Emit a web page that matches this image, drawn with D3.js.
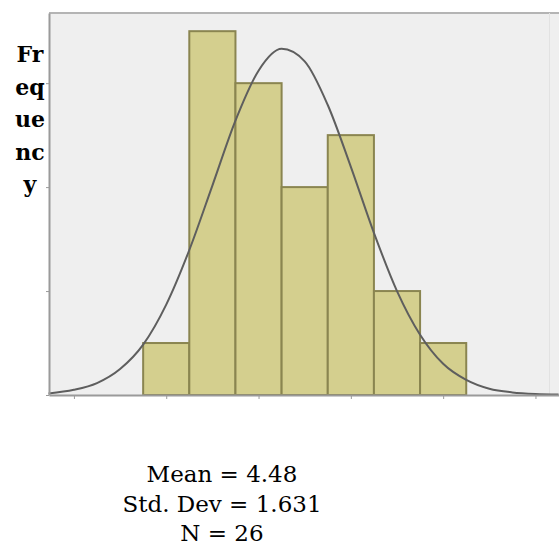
<!DOCTYPE html>
<html>
<head>
<meta charset="utf-8">
<script src="https://cdn.jsdelivr.net/npm/d3@7"></script>
<style>
  body { margin: 0; background: #fff; }
  svg { display: block; }
  .axis path, .axis line { stroke: #9a9a9a; }
</style>
</head>
<body>
<svg width="559" height="549"></svg>
<script>
// histogram values (bins are 1 wide, centred on the integers)
var binCenters = [2, 3, 4, 5, 6, 7, 8];
var frequencies = [1, 7, 6, 4, 5, 2, 1];
var xTickValues = [0, 2, 4, 6, 8, 10];
var yTickValues = [0, 2, 4, 6];
// normal curve
var curveX = [-0.55, 0, 0.5, 1, 1.5, 2, 2.5, 3, 3.5, 4, 4.5, 5, 5.5, 6, 6.5, 7, 7.5, 8, 8.5, 9, 9.5, 10, 10.5];
var curveY = [0.03, 0.1, 0.23, 0.5, 0.97, 1.74, 2.79, 4.03, 5.28, 6.24, 6.66, 6.42, 5.58, 4.39, 3.12, 2.0, 1.16, 0.6, 0.29, 0.12, 0.05, 0.02, 0.01];
var yLabelParts = ['Fr', 'eq', 'ue', 'nc', 'y'];
var statLines = ['Mean = 4.48', 'Std. Dev = 1.631', 'N = 26'];

var svg = d3.select('svg');
var plot = {l: 49, t: 13, r: 559, b: 395};

var xScale = d3.scaleLinear().domain([-0.54, 10.51]).range([plot.l, plot.r]);
var yScale = d3.scaleLinear().domain([0, 7.35]).range([plot.b, plot.t]);

// plot background + frame
svg.append('rect')
    .attr('x', plot.l).attr('y', plot.t)
    .attr('width', plot.r - plot.l).attr('height', plot.b - plot.t)
    .attr('fill', '#efefef');
svg.append('line')
    .attr('x1', plot.l).attr('x2', plot.r)
    .attr('y1', plot.t).attr('y2', plot.t)
    .attr('stroke', '#b4b4b4').attr('stroke-width', 2);
svg.append('line')
    .attr('x1', 549.5).attr('x2', 549.5)
    .attr('y1', plot.t).attr('y2', plot.b)
    .attr('stroke', '#e2e2e2').attr('stroke-width', 1);

// bars
var bars = binCenters.map(function(c, i) { return {c: c, f: frequencies[i]}; });
svg.append('g').selectAll('rect')
    .data(bars)
    .enter()
    .append('rect')
    .attr('x', function(d) { return xScale(d.c - 0.5); })
    .attr('y', function(d) { return yScale(d.f); })
    .attr('width', function(d) { return xScale(d.c + 0.5) - xScale(d.c - 0.5); })
    .attr('height', function(d) { return yScale(0) - yScale(d.f); })
    .attr('fill', '#d4cf8e')
    .attr('stroke', '#8a8550')
    .attr('stroke-width', 2);

// normal curve
var curvePts = curveX.map(function(x, i) { return [x, curveY[i]]; });
var line = d3.line()
    .x(function(d) { return xScale(d[0]); })
    .y(function(d) { return yScale(d[1]); })
    .curve(d3.curveMonotoneX);
svg.append('path')
    .datum(curvePts)
    .attr('d', line)
    .attr('fill', 'none')
    .attr('stroke', '#5e5e5e')
    .attr('stroke-width', 2);

// axes, no tick labels
var xAxis = d3.axisBottom(xScale).tickValues(xTickValues).tickFormat('').tickSize(4).tickSizeOuter(0);
var yAxis = d3.axisLeft(yScale).tickValues(yTickValues).tickFormat('').tickSize(3).tickSizeOuter(0);
svg.append('g')
    .attr('class', 'x axis')
    .attr('transform', 'translate(' + [0, plot.b] + ')')
    .call(xAxis)
    .select('.domain').attr('stroke-width', 2);
svg.append('g')
    .attr('class', 'y axis')
    .attr('transform', 'translate(' + [plot.l, 0] + ')')
    .call(yAxis)
    .select('.domain').attr('stroke-width', 2);

// y label broken into pieces
svg.append('g').selectAll('text')
    .data(yLabelParts)
    .enter()
    .append('text')
    .attr('x', 30)
    .attr('y', function(d, i) { return 62 + i * 32.5; })
    .attr('text-anchor', 'middle')
    .style('font-family', 'DejaVu Serif, serif')
    .style('font-weight', 'bold')
    .style('font-size', '22px')
    .text(function(d) { return d; });

// stats block
svg.append('g').selectAll('text')
    .data(statLines)
    .enter()
    .append('text')
    .attr('x', 222)
    .attr('y', function(d, i) { return 482 + i * 29.5; })
    .attr('text-anchor', 'middle')
    .style('font-family', 'DejaVu Serif, serif')
    .style('font-size', '23px')
    .text(function(d) { return d; });
</script>
</body>
</html>
